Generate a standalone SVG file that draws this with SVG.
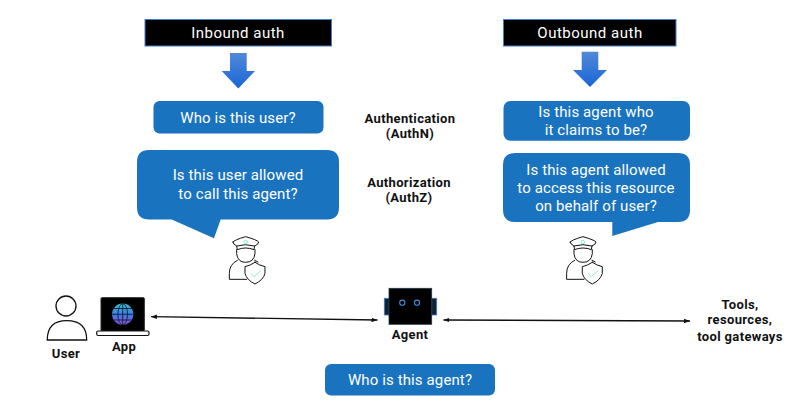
<svg xmlns="http://www.w3.org/2000/svg" width="811" height="414" viewBox="0 0 811 414">
<style>
text{font-family:Roboto,"Noto Sans","Liberation Sans",sans-serif;text-anchor:middle}
.w{fill:#fff;font-size:15px;letter-spacing:.12px}
.h{fill:#fff;font-size:15px;letter-spacing:.5px}
.b{fill:#111;font-size:13px;font-weight:700;letter-spacing:.35px}
.hd{fill:#000;stroke:#3f7fd0;stroke-width:1}
.bl{fill:#1a73bf}
.conn{stroke:#111;stroke-width:1.3;fill:none;marker-start:url(#a);marker-end:url(#a)}
.ln{fill:none;stroke:#111;stroke-width:3;stroke-linejoin:round;stroke-linecap:round}
.mint{fill:none;stroke:#8fe8da;stroke-width:3;stroke-linecap:round;stroke-linejoin:round}
</style>
<defs>
<marker id="a" viewBox="0 0 8 6" refX="8" refY="3" markerWidth="6" markerHeight="5" markerUnits="userSpaceOnUse" orient="auto-start-reverse"><path d="M0 0L8 3L0 6Z" fill="#111"/></marker>
<linearGradient id="ar" x1="0" y1="0" x2="0" y2="1"><stop offset="0" stop-color="#5288d8"/><stop offset="1" stop-color="#1866d6"/></linearGradient>
<linearGradient id="gl" x1="0" y1="0" x2="0" y2="1"><stop offset="0" stop-color="#3fc4c8"/><stop offset=".5" stop-color="#3b7be0"/><stop offset="1" stop-color="#8a55d8"/></linearGradient>
<g id="officer" transform="scale(.3333)">
<path class="ln" d="M309 291Q312 285 347 275Q382 285 386 291Q386 298 374 303L372 314Q347 304 322 314L320 303Q309 298 309 291Z"/>
<path class="ln" d="M320 303Q347 295 374 303"/>
<circle class="mint" cx="347" cy="291" r="5"/>
<path class="ln" d="M320 314V326Q323 352 347 352Q372 352 375 326V314"/>
<path class="ln" d="M322 346Q298 358 298 385V403H350M374 346L384 351"/>
<path class="ln" d="M375 352Q390 362 405 365V385Q400 405 375 417Q350 405 345 385V365Q360 362 375 352Z"/>
<path class="mint" d="M363 386L372 395L392 378"/>
</g>
</defs>
<g id="connectors">
<path class="conn" d="M151 316.7L377.5 320"/>
<path class="conn" d="M443.5 320L690 321"/>
</g>
<g id="inbound-header"><rect class="hd" x="145" y="19.5" width="186.500" height="26.500"/><text class="h" x="238" y="38">Inbound auth</text></g>
<g id="inbound-arrow"><path fill="url(#ar)" d="M230 53H246.700V71H255L238.300 88.500L221.700 71H230Z"/></g>
<g id="who-user"><rect class="bl" x="153.500" y="101" width="170" height="32.500" rx="6"/><text class="w" x="238" y="122.500">Who is this user?</text></g>
<g id="inbound-authz"><path class="bl" d="M149 150H327Q339 150 339 162V207.500Q339 219.500 327 219.500H220.700L214 238.300L171.700 219.500H149Q137 219.500 137 207.500V162Q137 150 149 150Z"/><text class="w" x="238" y="180">Is this user allowed</text><text class="w" x="238" y="199">to call this agent?</text></g>
<g id="inbound-officer"><use href="#officer" transform="translate(130 145)"/></g>
<g id="outbound-header"><rect class="hd" x="503.500" y="19.500" width="172.500" height="26.500"/><text class="h" x="590" y="38">Outbound auth</text></g>
<g id="outbound-arrow"><path fill="url(#ar)" d="M581.700 51.700H598.300V70H607L590 87L573 70H581.700Z"/></g>
<g id="agent-who"><rect class="bl" x="503.500" y="101" width="186.500" height="39.700" rx="7"/><text class="w" x="596" y="117">Is this agent who</text><text class="w" x="596" y="135">it claims to be?</text></g>
<g id="outbound-authz"><path class="bl" d="M515 153H678Q690 153 690 165V210Q690 222 678 222H658L612.300 236V222H515Q503 222 503 210V165Q503 153 515 153Z"/><text class="w" x="596" y="175">Is this agent allowed</text><text class="w" x="596" y="193">to access this resource</text><text class="w" x="596" y="211">on behalf of user?</text></g>
<g id="outbound-officer"><use href="#officer" transform="translate(467.300 145)"/></g>
<g id="authn"><text class="b" x="410" y="123">Authentication</text><text class="b" x="410" y="138">(AuthN)</text></g>
<g id="authz"><text class="b" x="409" y="187">Authorization</text><text class="b" x="409" y="202">(AuthZ)</text></g>
<g id="user"><circle cx="66" cy="306" r="10" fill="#fff" stroke="#111" stroke-width="1.300"/><path d="M47.300 340Q47.300 320.700 66.700 320.700Q86.700 320.700 86.700 340Z" fill="#fff" stroke="#111" stroke-width="1.300"/><text class="b" x="66" y="358">User</text></g>
<g id="app"><rect x="101" y="297.700" width="43.300" height="33.300" rx="1" fill="#000" stroke="#222" stroke-width="1"/><rect x="96.700" y="331" width="52.300" height="4.500" rx="1.500" fill="#fff" stroke="#111" stroke-width="1.200"/><circle cx="122.700" cy="314.300" r="10.700" fill="url(#gl)"/><g fill="none" stroke="#0b1030" stroke-width=".8"><ellipse cx="122.700" cy="314.300" rx="4.800" ry="10.700"/><path d="M122.700 303.600V325M112 314.300H133.400M113.500 308.500H132M113.500 320H132"/></g><text class="b" x="124" y="351">App</text></g>
<g id="agent"><rect x="384.300" y="298.300" width="5" height="16.700" fill="#123" stroke="#3f7fd0" stroke-width=".8"/><rect x="431.700" y="298.300" width="5" height="16.700" fill="#123" stroke="#3f7fd0" stroke-width=".8"/><rect x="389" y="288.300" width="42.700" height="36" fill="#000" stroke="#1b3b4d" stroke-width=".8"/><circle cx="402.300" cy="302.700" r="2.600" fill="none" stroke="#3d8fe0" stroke-width="1.100"/><circle cx="417" cy="302.700" r="2.600" fill="none" stroke="#3d8fe0" stroke-width="1.100"/><text class="b" x="410" y="339">Agent</text></g>
<g id="tools"><text class="b" x="740" y="309">Tools,</text><text class="b" x="740" y="324">resources,</text><text class="b" x="740" y="341">tool gateways</text></g>
<g id="who-agent"><rect class="bl" x="325" y="364" width="170" height="31.500" rx="6"/><text class="w" x="410" y="385">Who is this agent?</text></g>
</svg>
